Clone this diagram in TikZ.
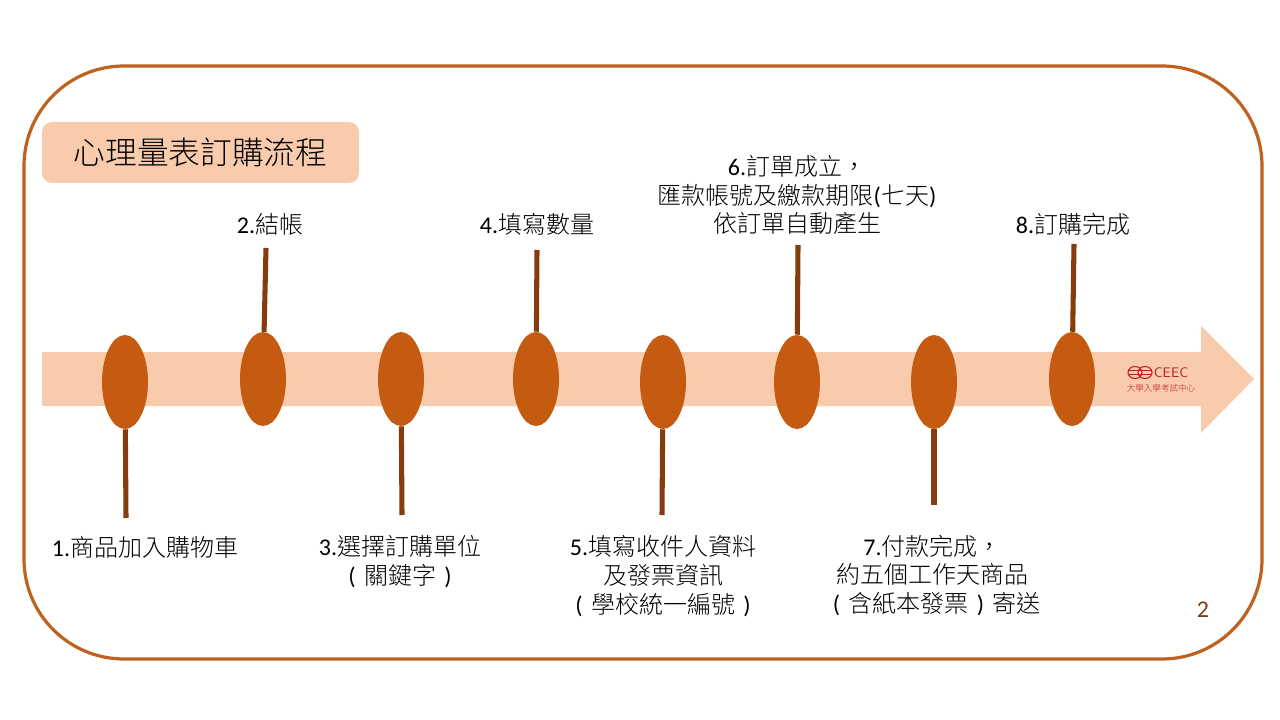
\documentclass[tikz,border=0pt]{standalone}
\usepackage{fontspec}
\setmainfont{Carlito}
\newfontfamily\cjk{Noto Sans CJK TC Light}
\definecolor{oran}{HTML}{C55A11}
\definecolor{frame}{HTML}{BF621F}
\definecolor{peach}{HTML}{F8CBAD}
\definecolor{stick}{HTML}{843C0C}
\definecolor{logored}{HTML}{BE1E26}
\newcommand{\lp}{\makebox[1em][c]{\rmfamily (}}
\newcommand{\rp}{\makebox[1em][c]{\rmfamily )}}
\tikzset{
  x=0.75pt,y=-0.75pt,
  pin/.style={ellipse,fill=oran,minimum width=34.5pt,minimum height=70.5pt,inner sep=0pt},
  stem/.style={draw=stick,line width=3.8pt},
  lab/.style={align=center,inner sep=0pt,font=\fontsize{18}{21.7}\selectfont\cjk},
}
\usetikzlibrary{shapes.geometric}
\begin{document}
\begin{tikzpicture}
\useasboundingbox (0,0) rectangle (1280,720);
\fill[white] (0,0) rectangle (1280,720);
\draw[frame,line width=2.4pt,rounded corners=75pt] (24,66) rectangle (1262,659);
\node[fill=peach,rounded corners=7.5pt,minimum width=237.75pt,minimum height=45.75pt,inner sep=0pt,font=\fontsize{23.8}{28}\selectfont\cjk] (title) at (200.5,152.5) {心理量表訂購流程};
\fill[peach] (42,352) -- (1201,352) -- (1201,326) -- (1254,379) -- (1201,433) -- (1201,406) -- (42,406) -- cycle;
\coordinate (c1) at (126,518);
\coordinate (c2) at (266,248);
\coordinate (c3) at (402,515);
\coordinate (c4) at (537,250);
\coordinate (c5) at (662,515);
\coordinate (c6) at (798,245);
\coordinate (c7) at (934,505);
\coordinate (c8) at (1074,244);
\node[pin] (e1) at (125,382) {};
\node[pin] (e2) at (263,379) {};
\node[pin] (e3) at (401,379) {};
\node[pin] (e4) at (536,379) {};
\node[pin] (e5) at (663,382) {};
\node[pin] (e6) at (797,382) {};
\node[pin] (e7) at (934,382) {};
\node[pin] (e8) at (1072,379) {};
\foreach \i in {1,...,8} \draw[stem] (e\i) -- (c\i);
\node[lab] (t1) at (145,547) {{\rmfamily 1.}商品加入購物車};
\node[lab] (t2) at (270,224) {{\rmfamily 2.}結帳};
\node[lab] (t3) at (400,561.5) {{\rmfamily 3.}選擇訂購單位\\\lp 關鍵字\rp};
\node[lab] (t4) at (537,224) {{\rmfamily 4.}填寫數量};
\node[lab] (t5) at (663,576) {{\rmfamily 5.}填寫收件人資料\\及發票資訊\\\lp 學校統一編號\rp};
\node[lab] (t6) at (797,195) {{\rmfamily 6.}訂單成立，\\匯款帳號及繳款期限{\rmfamily (}七天{\rmfamily )}\\依訂單自動產生};
\node[lab] (t7) at (932.5,575.5) {{\rmfamily 7.}付款完成，\\約五個工作天商品\\\lp 含紙本發票\rp 寄送};
\node[lab] (t8) at (1073,224) {{\rmfamily 8.}訂購完成};
\node[inner sep=0pt,text=stick,font=\fontsize{18}{20}\selectfont] (pg) at (1203,610) {2};
% logo
\draw[logored,line width=0.8pt] (1135,372.5) ellipse (7 and 6);
\draw[logored,line width=0.8pt] (1145,372.5) ellipse (7 and 6);
\draw[logored,line width=0.8pt] (1129,370.5) -- (1151,370.5) (1129,374.5) -- (1151,374.5);
\node[inner sep=0pt,text=logored,font=\fontsize{10.4}{11}\selectfont\sffamily] (lg1) at (1171,372.5) {CEEC};
\node[inner sep=0pt,text=logored,font=\fontsize{6.4}{7}\selectfont\cjk] (lg2) at (1161,388) {大學入學考試中心};
\end{tikzpicture}
\end{document}
